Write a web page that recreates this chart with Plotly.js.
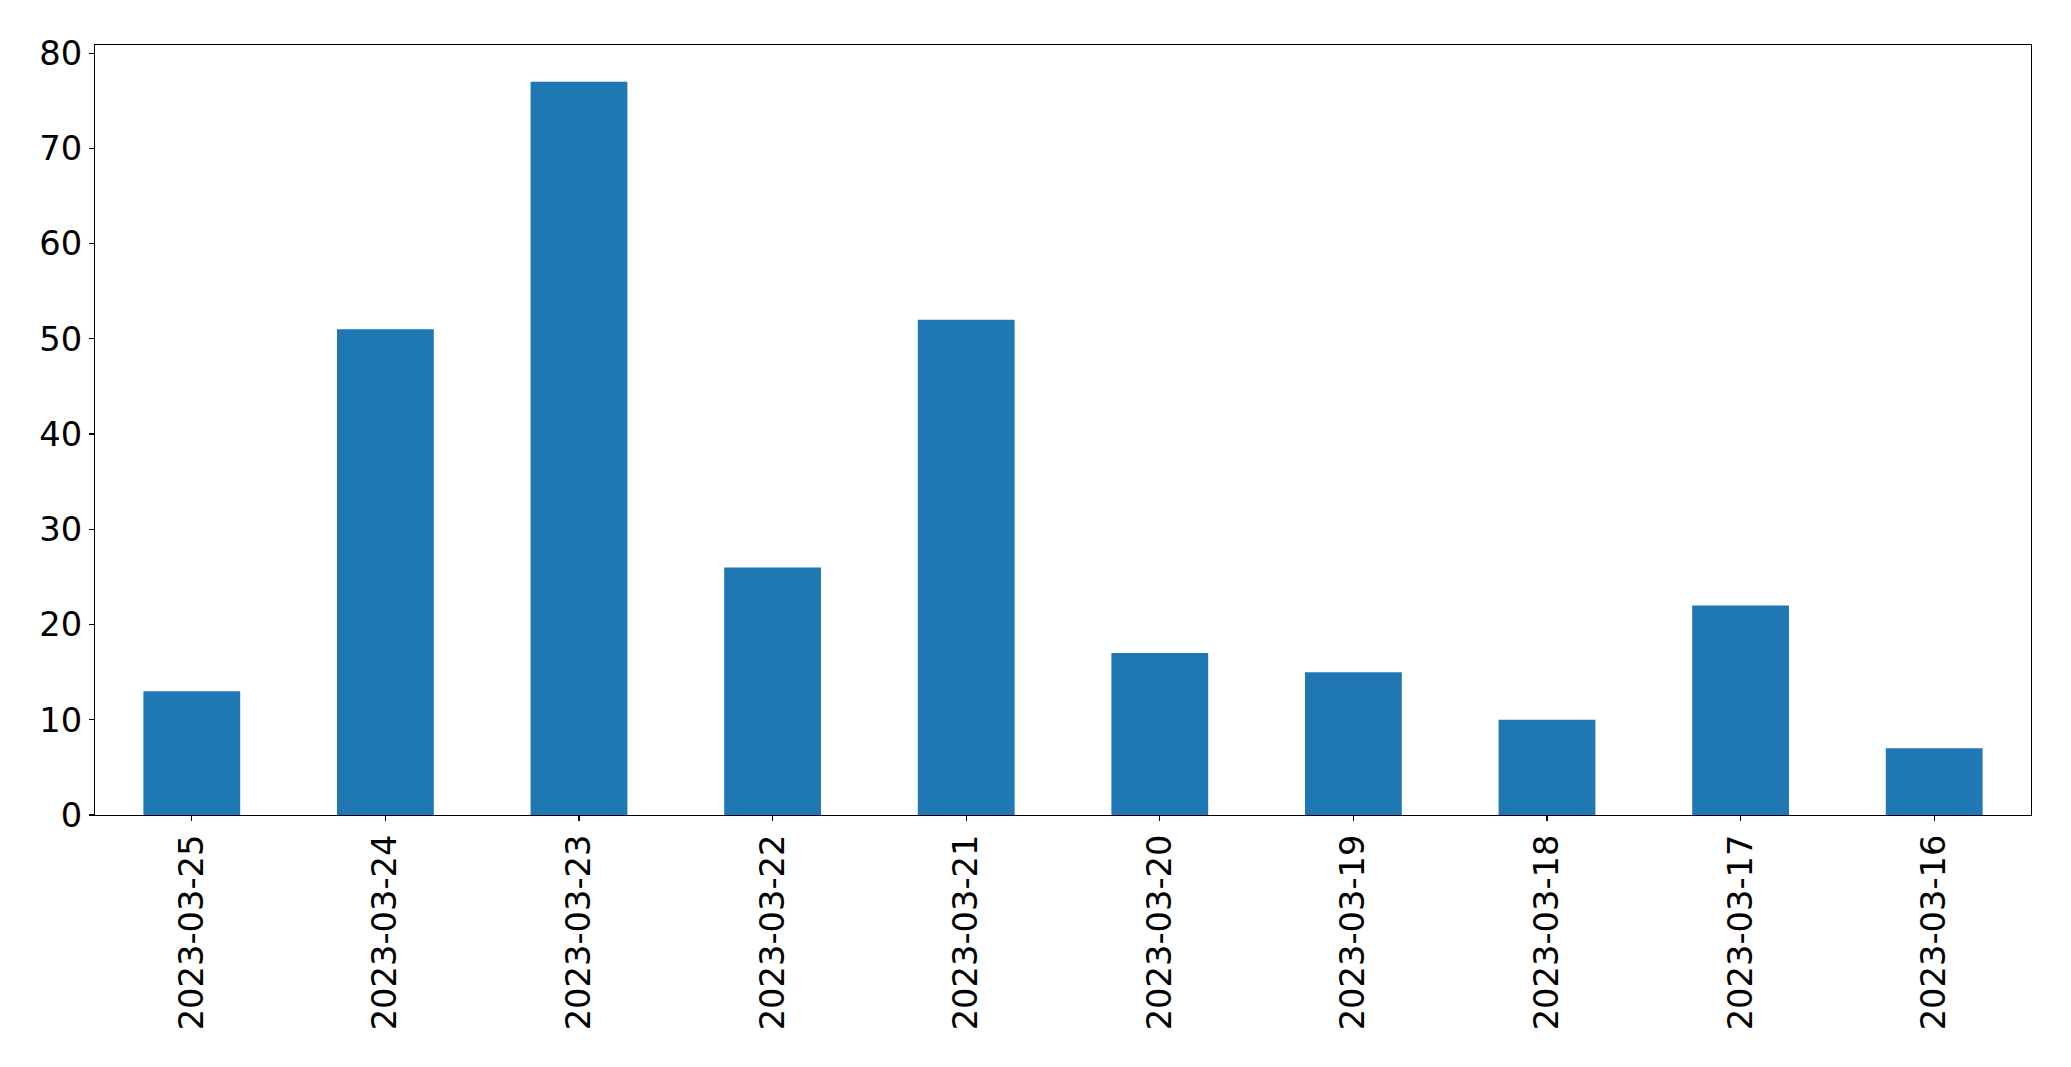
<!DOCTYPE html>
<html>
<head>
<meta charset="utf-8">
<script src="https://cdn.plot.ly/plotly-3.0.1.min.js"></script>
<style>html,body{margin:0;padding:0;background:#fff;}#chart{width:2071px;height:1067px;}</style>
</head>
<body>
<div id="chart"></div>
<script>
const dates = ["2023-03-25","2023-03-24","2023-03-23","2023-03-22","2023-03-21","2023-03-20","2023-03-19","2023-03-18","2023-03-17","2023-03-16"];
const counts = [13, 51, 77, 26, 52, 17, 15, 10, 22, 7];
const yTicks = [0, 10, 20, 30, 40, 50, 60, 70, 80];

const trace = {
  type: 'bar',
  x: dates,
  y: counts,
  width: 0.5,
  marker: {color: '#1f77b4', line: {width: 0}},
  hoverinfo: 'x+y'
};

const tickFont = {family: 'DejaVu Sans', size: 33.7, color: '#000'};

const layout = {
  width: 2071,
  height: 1067,
  margin: {l: 95, r: 40, t: 45, b: 252, pad: 0},
  paper_bgcolor: '#fff',
  plot_bgcolor: '#fff',
  showlegend: false,
  xaxis: {
    type: 'category',
    range: [-0.5, 9.5],
    tickangle: -90,
    ticks: 'outside',
    ticklen: 5,
    tickwidth: 1.1,
    tickcolor: '#000',
    showline: true,
    linecolor: '#000',
    linewidth: 1.1,
    mirror: true,
    showgrid: false,
    zeroline: false,
    tickfont: tickFont
  },
  yaxis: {
    range: [0, 80.85],
    tickmode: 'array',
    tickvals: yTicks,
    ticktext: yTicks.map(String),
    ticks: 'outside',
    ticklen: 5,
    tickwidth: 1.1,
    tickcolor: '#000',
    showline: true,
    linecolor: '#000',
    linewidth: 1.1,
    mirror: true,
    showgrid: false,
    zeroline: false,
    tickfont: tickFont
  }
};

Plotly.newPlot('chart', [trace], layout, {displayModeBar: false, staticPlot: true});
</script>
</body>
</html>
